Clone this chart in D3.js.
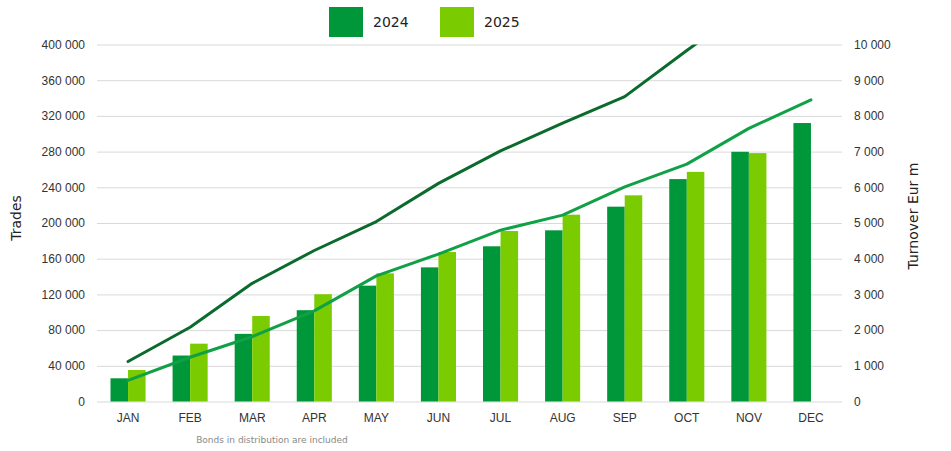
<!DOCTYPE html>
<html>
<head>
<meta charset="utf-8">
<script src="https://cdn.jsdelivr.net/npm/d3@7"></script>
<style>
  body { margin: 0; background: #fff; }
  svg { display: block; font-family: "DejaVu Sans", Verdana, sans-serif; }
</style>
</head>
<body>
<svg id="chart" width="951" height="451"></svg>
<script>
// Data
let months = ["JAN", "FEB", "MAR", "APR", "MAY", "JUN", "JUL", "AUG", "SEP", "OCT", "NOV", "DEC"];
let years = ["2024", "2025"];
let trades2024 = [26000, 51500, 75800, 102300, 129800, 150300, 173900, 191800, 218300, 249200, 279800, 312000];
let trades2025 = [35300, 64800, 95800, 120200, 143600, 167500, 191000, 209300, 231000, 257300, 278300];
let turnover2024 = [590, 1240, 1815, 2540, 3520, 4130, 4800, 5220, 6010, 6650, 7650, 8450];
let turnover2025 = [1120, 2080, 3310, 4230, 5040, 6110, 7020, 7800, 8540, 9830, 11100];
let tradeTicks = [0, 40000, 80000, 120000, 160000, 200000, 240000, 280000, 320000, 360000, 400000];
let turnoverTicks = [0, 1000, 2000, 3000, 4000, 5000, 6000, 7000, 8000, 9000, 10000];
let note = "Bonds in distribution are included";

let colors = {"2024": "#00963a", "2025": "#7acc00"};
let lineColors = {"2024": "#10a046", "2025": "#0b6b2d"};

let svg = d3.select("#chart");
let margin = {top: 44.5, left: 97, right: 109, bottom: 49.5},
    width = +svg.attr("width") - margin.left - margin.right,
    height = +svg.attr("height") - margin.top - margin.bottom,
    g = svg.append("g").attr("transform", "translate(" + margin.left + "," + margin.top + ")");

let fmt = d3.formatLocale({decimal: ".", thousands: " ", grouping: [3], currency: ["", ""]}).format(",");

let x = d3.scaleBand().domain(months).range([0, width]).padding(0);
let x1 = d3.scaleBand().domain(years).range([13.5, x.bandwidth() - 13.5]);
let yLeft = d3.scaleLinear().domain([0, 400000]).range([height, 0]);
let yRight = d3.scaleLinear().domain([0, 10000]).range([height, 0]);

// left axis with grid lines
let leftAxis = g.append("g")
    .call(d3.axisLeft(yLeft).tickValues(tradeTicks).tickFormat(fmt).tickSize(-width).tickPadding(12));
leftAxis.select(".domain").remove();
leftAxis.selectAll("line").attr("stroke", "#d9d9d9").attr("stroke-width", 1);
leftAxis.selectAll("text").attr("fill", "#333").style("font-size", "12px");

// right axis
let rightAxis = g.append("g")
    .attr("transform", "translate(" + width + ",0)")
    .call(d3.axisRight(yRight).tickValues(turnoverTicks).tickFormat(fmt).tickSize(0).tickPadding(12));
rightAxis.select(".domain").remove();
rightAxis.selectAll("text").attr("fill", "#333").style("font-size", "12px");

// bottom axis
let bottomAxis = g.append("g")
    .attr("transform", "translate(0," + height + ")")
    .call(d3.axisBottom(x).tickSize(0).tickPadding(12));
bottomAxis.select(".domain").remove();
bottomAxis.selectAll("text").attr("fill", "#333").style("font-size", "12px");

// bars
let barData = [];
months.forEach((m, i) => {
    if (trades2024[i] != null) barData.push({month: m, year: "2024", value: trades2024[i]});
    if (trades2025[i] != null) barData.push({month: m, year: "2025", value: trades2025[i]});
});
g.append("g").selectAll("rect")
    .data(barData)
    .enter().append("rect")
    .attr("x", d => x(d.month) + x1(d.year))
    .attr("y", d => yLeft(d.value))
    .attr("width", x1.bandwidth())
    .attr("height", d => height - yLeft(d.value))
    .attr("fill", d => colors[d.year]);

// turnover lines, clipped to the plot area
svg.append("defs").append("clipPath").attr("id", "plot-clip")
    .append("rect").attr("x", 0).attr("y", 0).attr("width", width).attr("height", height);

let line = d3.line()
    .x((d, i) => x(months[i]) + x.bandwidth() / 2)
    .y(d => yRight(d));

let lines = g.append("g").attr("clip-path", "url(#plot-clip)");
[["2024", turnover2024], ["2025", turnover2025]].forEach(([yr, vals]) => {
    lines.append("path")
        .datum(vals)
        .attr("fill", "none")
        .attr("stroke", lineColors[yr])
        .attr("stroke-width", 3)
        .attr("stroke-linejoin", "round")
        .attr("stroke-linecap", "round")
        .attr("d", line);
});

// axis titles
svg.append("text")
    .attr("transform", "translate(21,218) rotate(-90)")
    .attr("text-anchor", "middle")
    .attr("fill", "#222")
    .style("font-size", "14px")
    .text("Trades");

svg.append("text")
    .attr("transform", "translate(918,216) rotate(-90)")
    .attr("text-anchor", "middle")
    .attr("fill", "#222")
    .style("font-size", "14px")
    .text("Turnover Eur m");

// legend
let legend = svg.append("g").selectAll("g")
    .data(years)
    .enter().append("g")
    .attr("transform", (d, i) => "translate(" + (329 + i * 111) + ",7)");
legend.append("rect")
    .attr("width", 34)
    .attr("height", 30)
    .attr("fill", d => colors[d]);
legend.append("text")
    .attr("x", 44)
    .attr("y", 20)
    .attr("fill", "#222")
    .style("font-size", "14px")
    .text(d => d);

// footnote
svg.append("text")
    .attr("x", 272)
    .attr("y", 443)
    .attr("text-anchor", "middle")
    .attr("fill", "#888")
    .style("font-size", "9px")
    .text(note);
</script>
</body>
</html>
